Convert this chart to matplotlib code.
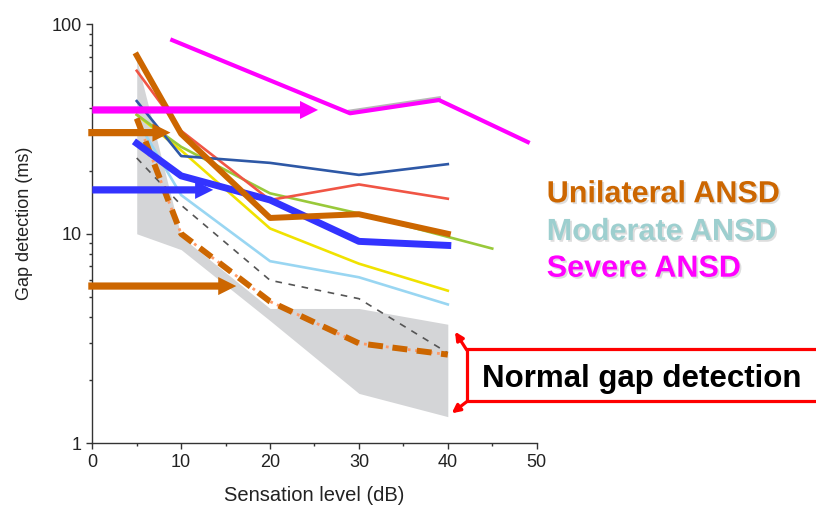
import numpy as np
import matplotlib.pyplot as plt
import matplotlib.patheffects as pe
from matplotlib.patches import Rectangle
from matplotlib.ticker import LogLocator, FixedLocator, NullFormatter

plt.rcParams['font.family'] = ['Liberation Sans', 'DejaVu Sans']

# sensation level (dB) where the curves are sampled
sl = [5, 10, 20, 30, 40]

# individual listeners (gap detection, ms)
unilateral_a = [71, 30, 11.9, 12.4, 10.0]
blue_thick = [27, 18.9, 14.5, 9.2, 8.8]
dark_blue = [43, 23.5, 21.8, 19.1, 21.5]
red_thin = [60, 31, 14.5, 17.2, 14.7]
green_sl = [5, 10, 20, 30, 45]
green_thin = [37, 26, 15.6, 12.5, 8.5]
yellow_thin = [37, 25, 10.6, 7.2, 5.35]
lightblue_thin = [35, 15.3, 7.4, 6.2, 4.6]
grey_dashed = [23, 13.7, 6.0, 4.9, 2.7]
normal_median = [35.5, 10.0, 4.75, 3.0, 2.65]

severe_sl = [9, 29, 39, 49]
severe = [84, 37.6, 43.5, 27.4]
severe_shadow_sl = [29, 39]
severe_shadow = [38.3, 44.3]

# normal range (grey band)
band_upper = [68, 9.7, 4.4, 4.4, 3.7]
band_lower = [10, 8.4, 3.85, 1.73, 1.34]

# single-level thresholds shown as arrows: (start, end, value, colour)
arrow_start = [0, -0.45, 0, -0.45]
arrow_end = [25.4, 8.8, 13.6, 16.2]
arrow_value = [39, 30.4, 16.2, 5.63]
arrow_colors = ['#ff00ff', '#cc6600', '#3333ff', '#cc6600']

fig = plt.figure(figsize=(8.16, 5.08), dpi=100)
ax = fig.add_axes([0.1131, 0.1274, 0.5446, 0.8248])

ax.fill_between(sl, band_lower, band_upper, color='#d4d5d7', lw=0, zorder=1)

ax.plot(sl, grey_dashed, color='#555555', lw=1.2, dashes=(4, 4), zorder=2)
ax.plot(sl, lightblue_thin, color='#99d6f2', lw=1.9, zorder=2)
ax.plot(sl, yellow_thin, color='#f0e200', lw=1.9, zorder=2)
ax.plot(green_sl, green_thin, color='#99c93a', lw=1.9, zorder=2)
ax.plot(sl, red_thin, color='#f05545', lw=1.9, zorder=2)
ax.plot(sl, dark_blue, color='#2e58a6', lw=1.9, zorder=2)

ax.plot(severe_shadow_sl, severe_shadow, color='#b8b8b8', lw=3, zorder=2)
ax.plot(severe_sl, severe, color='#ff00ff', lw=3, zorder=3)

ax.plot(sl, normal_median, color='#ff9966', lw=2, ls=':', zorder=3)
ax.plot(sl, normal_median, color='#cc6600', lw=4.3, dashes=(2.5, 1.6), zorder=3)
ax.plot(sl, blue_thick, color='#3333ff', lw=5, zorder=3)
ax.plot(sl, unilateral_a, color='#cc6600', lw=4.3, zorder=4)

for x0, x1, v, c in zip(arrow_start, arrow_end, arrow_value, arrow_colors):
    ax.annotate('', xy=(x1, v), xytext=(x0, v), annotation_clip=False,
                arrowprops=dict(arrowstyle='simple,head_width=1.3,head_length=1.3,tail_width=0.52',
                                mutation_scale=10, color=c, lw=0, shrinkA=0, shrinkB=0),
                zorder=5)

ax.set_yscale('log')
ax.set_xlim(0, 50)
ax.set_ylim(1, 100)
ax.spines['top'].set_visible(False)
ax.spines['right'].set_visible(False)
for s in ['left', 'bottom']:
    ax.spines[s].set_color('#333333')
    ax.spines[s].set_linewidth(1)
ax.set_xticks([0, 10, 20, 30, 40, 50])
ax.xaxis.set_minor_locator(FixedLocator([5, 15, 25, 35, 45]))
ax.set_yticks([1, 10, 100])
ax.set_yticklabels(['1', '10', '100'])
ax.yaxis.set_minor_locator(LogLocator(base=10, subs=np.arange(2, 10)))
ax.yaxis.set_minor_formatter(NullFormatter())
ax.tick_params(which='major', direction='out', length=4, width=1, color='#333333',
               labelsize=13, labelcolor='#222222')
ax.tick_params(which='minor', direction='out', length=2.5, width=1, color='#333333')

ax.set_xlabel('Sensation level (dB)', fontsize=14.5, color='#222222')
ax.set_ylabel('Gap detection (ms)', fontsize=13, color='#222222')
ax.xaxis.set_label_coords(0.5, -0.102)
ax.yaxis.set_label_coords(-0.1334, 0.526)

shadow = [pe.SimplePatchShadow(offset=(1.3, -1.3), shadow_rgbFace='#aaaaaa', alpha=0.4), pe.Normal()]
fig.text(0.670, 0.6018, 'Unilateral ANSD', fontsize=22, fontweight='bold', color='#cc6600',
         path_effects=shadow)
fig.text(0.670, 0.5276, 'Moderate ANSD', fontsize=22, fontweight='bold', color='#9dcfcf',
         path_effects=shadow)
fig.text(0.670, 0.4553, 'Severe ANSD', fontsize=22, fontweight='bold', color='#ff00ff',
         path_effects=shadow)

# box for normal range
fig.add_artist(Rectangle((467 / 816, 1 - 401 / 508), 0.45, 52 / 508, transform=fig.transFigure,
                         facecolor='white', edgecolor='#ff0000', lw=2.3))
fig.text(641.5 / 816, 1 - 387 / 508, 'Normal gap detection', fontsize=22.5, fontweight='bold',
         color='black', ha='center', va='baseline')
for tail, head in [((466.7, 158), (455, 176.3)), ((466.7, 106.3), (451.7, 94.7))]:
    fig.add_artist(plt.Annotation('', xy=head, xytext=tail, xycoords='figure pixels',
                                  textcoords='figure pixels',
                                  arrowprops=dict(arrowstyle='-|>', color='#ff0000', lw=2.3,
                                                  mutation_scale=12, shrinkA=0, shrinkB=0)))

fig.savefig('out.png', dpi=100)
